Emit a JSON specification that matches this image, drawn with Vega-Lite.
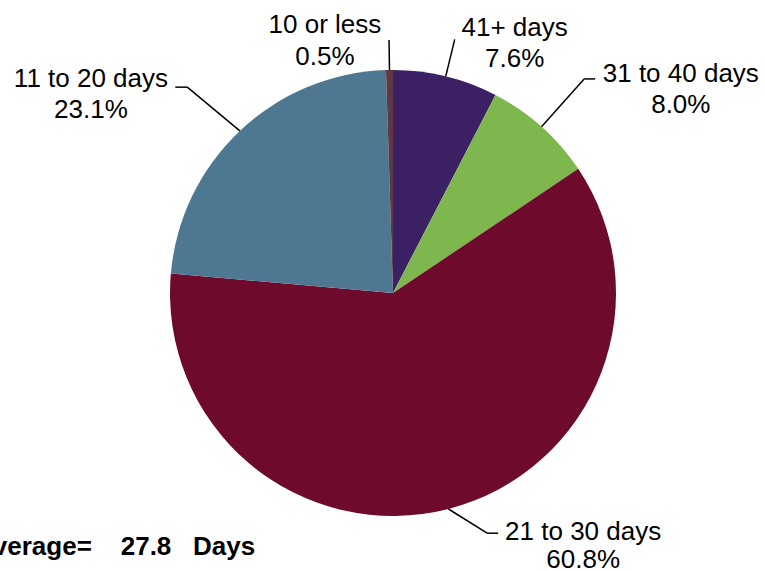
{
  "$schema": "https://vega.github.io/schema/vega-lite/v6.json",
  "width": 744,
  "height": 556,
  "autosize": {"type": "none"},
  "padding": {"left": 21, "top": 15, "right": 0, "bottom": 0},
  "background": "#ffffff",
  "config": {"view": {"stroke": null}, "font": "Liberation Sans"},
  "title": {
    "text": "Average=\u00a0\u00a0\u00a0\u00a027.8\u00a0\u00a0\u00a0Days",
    "orient": "bottom",
    "anchor": "start",
    "frame": "group",
    "align": "left",
    "baseline": "alphabetic",
    "font": "Liberation Sans",
    "fontSize": 26,
    "fontWeight": "bold",
    "color": "#000000",
    "offset": 0,
    "dx": -46,
    "dy": -18
  },
  "data": {
    "values": [
      {"category": "41+ days", "value": 7.6, "order": 1},
      {"category": "31 to 40 days", "value": 8.0, "order": 2},
      {"category": "21 to 30 days", "value": 60.8, "order": 3},
      {"category": "11 to 20 days", "value": 23.1, "order": 4},
      {"category": "10 or less", "value": 0.5, "order": 5}
    ]
  },
  "transform": [
    {"stack": "value", "groupby": [], "sort": [{"field": "order", "order": "ascending"}], "as": ["v0", "v1"]},
    {"calculate": "(datum.v0 + datum.v1) / 2", "as": "mid"},
    {"calculate": "datum.mid * PI / 50", "as": "a"},
    {"calculate": "223 * sin(datum.a)", "as": "x0"},
    {"calculate": "223 * cos(datum.a)", "as": "y0"},
    {"calculate": "[datum.category, format(datum.value, '.1f') + '%']", "as": "lbl"}
  ],
  "layer": [
    {
      "mark": {"type": "arc", "radius": 223},
      "encoding": {
        "theta": {"field": "v0", "type": "quantitative", "scale": {"domain": [0, 100], "range": [0, 6.283185307179586]}},
        "theta2": {"field": "v1"},
        "color": {
          "field": "category",
          "type": "nominal",
          "scale": {
            "domain": ["41+ days", "31 to 40 days", "21 to 30 days", "11 to 20 days", "10 or less"],
            "range": ["#3B2063", "#7DB74E", "#6E0B2C", "#4E7791", "#5E3842"]
          },
          "legend": null
        }
      }
    },
    {
      "transform": [
        {"filter": "datum.category === '41+ days'"},
        {"calculate": "261 * sin(datum.a)", "as": "x1"},
        {"calculate": "261 * cos(datum.a)", "as": "y1"}
      ],
      "layer": [
        {
          "mark": {"type": "rule", "color": "#000000", "strokeWidth": 1.5},
          "encoding": {
            "x": {"field": "x0", "type": "quantitative", "scale": {"domain": [-372, 372], "nice": false, "zero": false}, "axis": null},
            "y": {"field": "y0", "type": "quantitative", "scale": {"domain": [-278, 278], "nice": false, "zero": false}, "axis": null},
            "x2": {"field": "x1"},
            "y2": {"field": "y1"}
          }
        },
        {
          "mark": {"type": "text", "radius": 265, "dx": 59, "dy": 0, "align": "center", "baseline": "alphabetic", "fontSize": 26, "lineHeight": 31, "color": "#000000"},
          "encoding": {
            "theta": {"field": "mid", "type": "quantitative", "stack": null},
            "text": {"field": "lbl"}
          }
        }
      ]
    },
    {
      "transform": [
        {"filter": "datum.category === '31 to 40 days'"},
        {"calculate": "287 * sin(datum.a)", "as": "x1"},
        {"calculate": "287 * cos(datum.a)", "as": "y1"},
        {"calculate": "datum.x1 + 11", "as": "x2"}
      ],
      "layer": [
        {
          "mark": {"type": "rule", "color": "#000000", "strokeWidth": 1.5},
          "encoding": {
            "x": {"field": "x0", "type": "quantitative", "axis": null},
            "y": {"field": "y0", "type": "quantitative", "axis": null},
            "x2": {"field": "x1"},
            "y2": {"field": "y1"}
          }
        },
        {
          "mark": {"type": "rule", "color": "#000000", "strokeWidth": 1.5},
          "encoding": {
            "x": {"field": "x1", "type": "quantitative", "axis": null},
            "y": {"field": "y1", "type": "quantitative", "axis": null},
            "x2": {"field": "x2"},
            "y2": {"field": "y1"}
          }
        },
        {
          "mark": {"type": "text", "radius": 300, "dx": 88, "dy": 13, "align": "center", "baseline": "alphabetic", "fontSize": 26, "lineHeight": 31, "color": "#000000"},
          "encoding": {
            "theta": {"field": "mid", "type": "quantitative", "stack": null},
            "text": {"field": "lbl"}
          }
        }
      ]
    },
    {
      "transform": [
        {"filter": "datum.category === '21 to 30 days'"},
        {"calculate": "258 * sin(datum.a - 0.1222)", "as": "x1"},
        {"calculate": "258 * cos(datum.a - 0.1222)", "as": "y1"},
        {"calculate": "datum.x1 + 11", "as": "x2"}
      ],
      "layer": [
        {
          "mark": {"type": "rule", "color": "#000000", "strokeWidth": 1.5},
          "encoding": {
            "x": {"field": "x0", "type": "quantitative", "axis": null},
            "y": {"field": "y0", "type": "quantitative", "axis": null},
            "x2": {"field": "x1"},
            "y2": {"field": "y1"}
          }
        },
        {
          "mark": {"type": "rule", "color": "#000000", "strokeWidth": 1.5},
          "encoding": {
            "x": {"field": "x1", "type": "quantitative", "axis": null},
            "y": {"field": "y1", "type": "quantitative", "axis": null},
            "x2": {"field": "x2"},
            "y2": {"field": "y1"}
          }
        },
        {
          "mark": {"type": "text", "radius": 258, "dx": 126, "dy": -3, "align": "center", "baseline": "alphabetic", "fontSize": 26, "lineHeight": 28, "color": "#000000"},
          "encoding": {
            "theta": {"field": "mid", "type": "quantitative", "stack": null},
            "text": {"field": "lbl"}
          }
        }
      ]
    },
    {
      "transform": [
        {"filter": "datum.category === '11 to 20 days'"},
        {"calculate": "291 * sin(datum.a - 0.0279)", "as": "x1"},
        {"calculate": "291 * cos(datum.a - 0.0279)", "as": "y1"},
        {"calculate": "datum.x1 - 12", "as": "x2"}
      ],
      "layer": [
        {
          "mark": {"type": "rule", "color": "#000000", "strokeWidth": 1.5},
          "encoding": {
            "x": {"field": "x0", "type": "quantitative", "axis": null},
            "y": {"field": "y0", "type": "quantitative", "axis": null},
            "x2": {"field": "x1"},
            "y2": {"field": "y1"}
          }
        },
        {
          "mark": {"type": "rule", "color": "#000000", "strokeWidth": 1.5},
          "encoding": {
            "x": {"field": "x1", "type": "quantitative", "axis": null},
            "y": {"field": "y1", "type": "quantitative", "axis": null},
            "x2": {"field": "x2"},
            "y2": {"field": "y1"}
          }
        },
        {
          "mark": {"type": "text", "radius": 300, "dx": -96, "dy": 12, "align": "center", "baseline": "alphabetic", "fontSize": 26, "lineHeight": 31, "color": "#000000"},
          "encoding": {
            "theta": {"field": "mid", "type": "quantitative", "stack": null},
            "text": {"field": "lbl"}
          }
        }
      ]
    },
    {
      "transform": [
        {"filter": "datum.category === '10 or less'"},
        {"calculate": "253 * sin(datum.a)", "as": "x1"},
        {"calculate": "253 * cos(datum.a)", "as": "y1"}
      ],
      "layer": [
        {
          "mark": {"type": "rule", "color": "#000000", "strokeWidth": 1.5},
          "encoding": {
            "x": {"field": "x0", "type": "quantitative", "axis": null},
            "y": {"field": "y0", "type": "quantitative", "axis": null},
            "x2": {"field": "x1"},
            "y2": {"field": "y1"}
          }
        },
        {
          "mark": {"type": "text", "radius": 260, "dx": -64, "dy": 0, "align": "center", "baseline": "alphabetic", "fontSize": 26, "lineHeight": 32, "color": "#000000"},
          "encoding": {
            "theta": {"field": "mid", "type": "quantitative", "stack": null},
            "text": {"field": "lbl"}
          }
        }
      ]
    }
  ]
}
